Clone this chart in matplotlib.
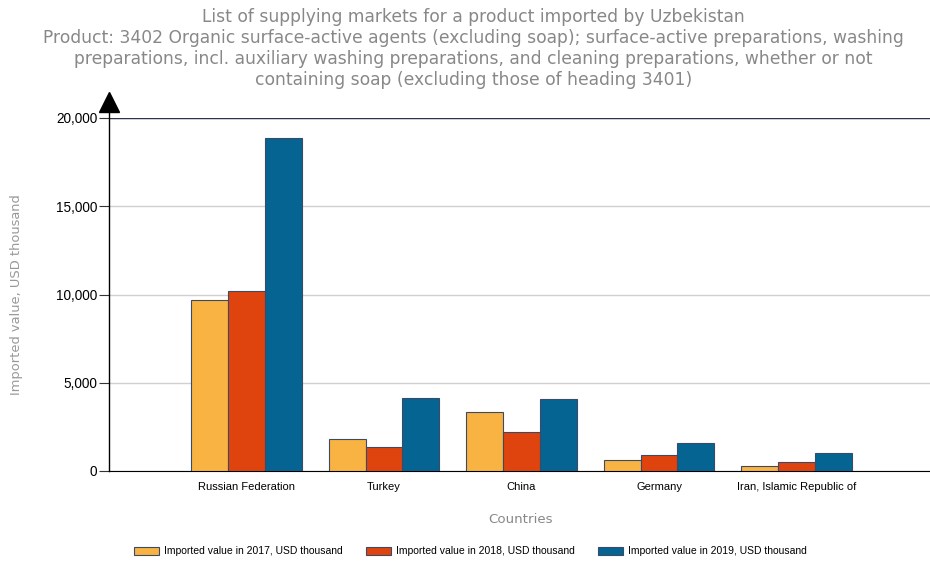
import numpy as np
import matplotlib.pyplot as plt

countries = ["Russian Federation", "Turkey", "China", "Germany", "Iran, Islamic Republic of"]
v2017 = [9700, 1800, 3360, 620, 265]
v2018 = [10200, 1340, 2190, 900, 490]
v2019 = [18850, 4150, 4100, 1590, 1020]
series_names = ["Imported value in 2017, USD thousand",
                "Imported value in 2018, USD thousand",
                "Imported value in 2019, USD thousand"]
colors = ["#F9B342", "#E0440E", "#066493"]
yticks = [0, 5000, 10000, 15000, 20000]

title = ("List of supplying markets for a product imported by Uzbekistan\n"
         "Product: 3402 Organic surface-active agents (excluding soap); surface-active preparations, washing\n"
         "preparations, incl. auxiliary washing preparations, and cleaning preparations, whether or not\n"
         "containing soap (excluding those of heading 3401)")

fig = plt.figure(figsize=(9.3, 5.63), dpi=100)
ax = fig.add_axes([109 / 930, 92 / 563, 822 / 930, 353 / 563])

x = np.arange(1, len(countries) + 1)
w = 0.267
for i, vals in enumerate([v2017, v2018, v2019]):
    ax.bar(x + (i - 1) * w, vals, w, color=colors[i], edgecolor="#3c4a66",
           linewidth=0.8, label=series_names[i], zorder=3)

ax.set_xlim(0, 822 / 137.5)
ax.set_ylim(0, 20000)
ax.set_yticks(yticks)
ax.set_yticklabels([f"{t:,}" for t in yticks], fontfamily="Liberation Sans", fontsize=9.8)
ax.set_xticks(x)
ax.set_xticklabels(countries, fontfamily="Liberation Sans", fontsize=8)
ax.tick_params(axis="x", length=0, pad=8)
ax.tick_params(axis="y", length=7, width=0.8, color="#333333", pad=1.5)

ax.grid(axis="y", color="#d0d0d0", linewidth=1, zorder=0)
ax.axhline(20000, color="#2a3550", linewidth=1, zorder=4)
for s in ["top", "right"]:
    ax.spines[s].set_visible(False)
ax.spines["bottom"].set_color("black")
ax.spines["left"].set_visible(False)
ax.plot([0, 0], [0, 1.03], transform=ax.transAxes, color="black", lw=1, clip_on=False, zorder=5)
ax.plot([0], [1.045], marker="^", markersize=14, color="black", transform=ax.transAxes,
        clip_on=False, zorder=5)

ax.set_ylabel("Imported value, USD thousand", color="#999999", fontsize=9.4)
ax.yaxis.set_label_coords(-0.105, 0.5)
ax.set_xlabel("Countries", color="#888888", fontsize=9.6)
ax.xaxis.set_label_coords(0.5, -0.118)

fig.text(0.509, 0.986, title, ha="center", va="top", color="#888888", fontsize=12.3,
         linespacing=1.22)

fig.legend(loc="center", bbox_to_anchor=(0.506, 0.021), ncol=3, frameon=False,
           prop={"family": "Liberation Sans", "size": 7.5}, handlelength=2.4,
           handleheight=0.8, columnspacing=2.2, handletextpad=0.5)

fig.savefig("out.png", dpi=100)
